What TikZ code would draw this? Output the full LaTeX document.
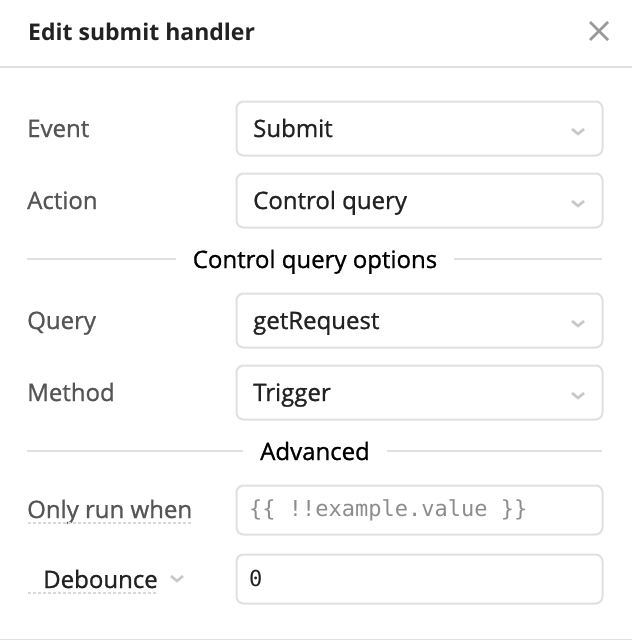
\documentclass[tikz,border=0pt]{standalone}
\usepackage{fontspec}
\setmainfont{Open Sans}
\setmonofont{DejaVu Sans Mono}
\newfontfamily\uifont[FakeBold=1]{Open Sans}
\definecolor{rulegray}{HTML}{E0E0E0}
\definecolor{labelgray}{HTML}{555555}
\definecolor{darktext}{HTML}{222222}
\definecolor{chevgray}{HTML}{C8C8C8}
\definecolor{closegray}{HTML}{999999}
\definecolor{hintgray}{HTML}{8C8C8C}
\tikzset{
  fieldbox/.style={draw=rulegray,line width=2pt,rounded corners=7pt,minimum width=366pt,anchor=north west,inner sep=0pt},
  fieldtext/.style={anchor=base west,inner sep=0pt,text=darktext,font=\uifont\fontsize{24}{28}\selectfont},
  rowlabel/.style={anchor=base west,inner sep=0pt,text=labelgray,font=\uifont\fontsize{24}{28}\selectfont},
  sectiontitle/.style={anchor=base,inner sep=0pt,text=black,font=\uifont\fontsize{24}{28}\selectfont},
  rulerline/.style={draw=rulegray,line width=1.6pt},
  chevron/.style={draw=chevgray,line width=2.6pt},
  hintline/.style={draw=chevgray!70,line width=1.2pt,dash pattern=on 3pt off 2pt}
}
\begin{document}
\begin{tikzpicture}[x=1pt,y=-1pt]
  \useasboundingbox (0,0) rectangle (632,640);
  % header
  \node[anchor=base west,inner sep=0pt,text=darktext,font=\bfseries\fontsize{23}{28}\selectfont] (title) at (28,40) {Edit submit handler};
  \coordinate (closea) at (590,22);
  \coordinate (closeb) at (608,40);
  \coordinate (closec) at (608,22);
  \coordinate (closed) at (590,40);
  \draw[closegray,line width=2.8pt] (closea) -- (closeb);
  \draw[closegray,line width=2.8pt] (closec) -- (closed);
  \coordinate (headl) at (0,67);
  \coordinate (headr) at (632,67);
  \draw[rulerline] (headl) -- (headr);
  % select rows
  \node[fieldbox,minimum height=54pt] (eventbox) at (235.5,100.5) {};
  \node[fieldbox,minimum height=54pt] (actionbox) at (235.5,172.5) {};
  \node[fieldbox,minimum height=54pt] (querybox) at (235.5,292.5) {};
  \node[fieldbox,minimum height=54pt] (methodbox) at (235.5,364.5) {};
  \node[rowlabel] (eventlabel) at (27,137) {Event};
  \node[rowlabel] (actionlabel) at (27,209) {Action};
  \node[rowlabel] (querylabel) at (27,329) {Query};
  \node[rowlabel] (methodlabel) at (27,401) {Method};
  \node[fieldtext] (eventvalue) at (253,137) {Submit};
  \node[fieldtext] (actionvalue) at (253,209) {Control query};
  \node[fieldtext] (queryvalue) at (253,329) {getRequest};
  \node[fieldtext] (methodvalue) at (253,401) {Trigger};
  \foreach \y in {130,202,322,394}
    \draw[chevron] (572,\y-1) -- (578,\y+4) -- (584,\y-1);
  % section rules
  \node[sectiontitle] (optionstitle) at (315,268) {Control query options};
  \node[sectiontitle] (advancedtitle) at (315,460) {Advanced};
  \coordinate (optl) at (27,259);
  \coordinate (optm) at (176,259);
  \coordinate (optn) at (454,259);
  \coordinate (optr) at (602,259);
  \coordinate (advl) at (27,451);
  \coordinate (advm) at (243,451);
  \coordinate (advn) at (387,451);
  \coordinate (advr) at (602,451);
  \draw[rulerline] (optl) -- (optm);
  \draw[rulerline] (optn) -- (optr);
  \draw[rulerline] (advl) -- (advm);
  \draw[rulerline] (advn) -- (advr);
  % advanced rows
  \node[fieldbox,minimum height=49pt] (onlybox) at (235.5,484.5) {};
  \node[fieldbox,minimum height=49pt] (debouncebox) at (235.5,553.5) {};
  \node[rowlabel] (onlylabel) at (27,518) {Only run when};
  \node[fieldtext] (debouncelabel) at (43,588) {Debounce};
  \node[anchor=base west,inner sep=0pt,text=hintgray,font=\ttfamily\fontsize{22}{26}\selectfont] (onlyhint) at (249,516) {\{\{ !!example.value \}\}};
  \node[anchor=base west,inner sep=0pt,text=darktext,font=\ttfamily\fontsize{22}{26}\selectfont] (debouncevalue) at (249,586) {0};
  \coordinate (onlyl) at (28,523);
  \coordinate (onlyr) at (192,523);
  \coordinate (debl) at (28,593);
  \coordinate (debr) at (158,593);
  \draw[hintline] (onlyl) -- (onlyr);
  \draw[hintline] (debl) -- (debr);
  \draw[chevron] (171,576) -- (177,581) -- (183,576);
  \coordinate (footl) at (0,639.5);
  \coordinate (footr) at (632,639.5);
  \draw[rulerline] (footl) -- (footr);
\end{tikzpicture}
\end{document}
